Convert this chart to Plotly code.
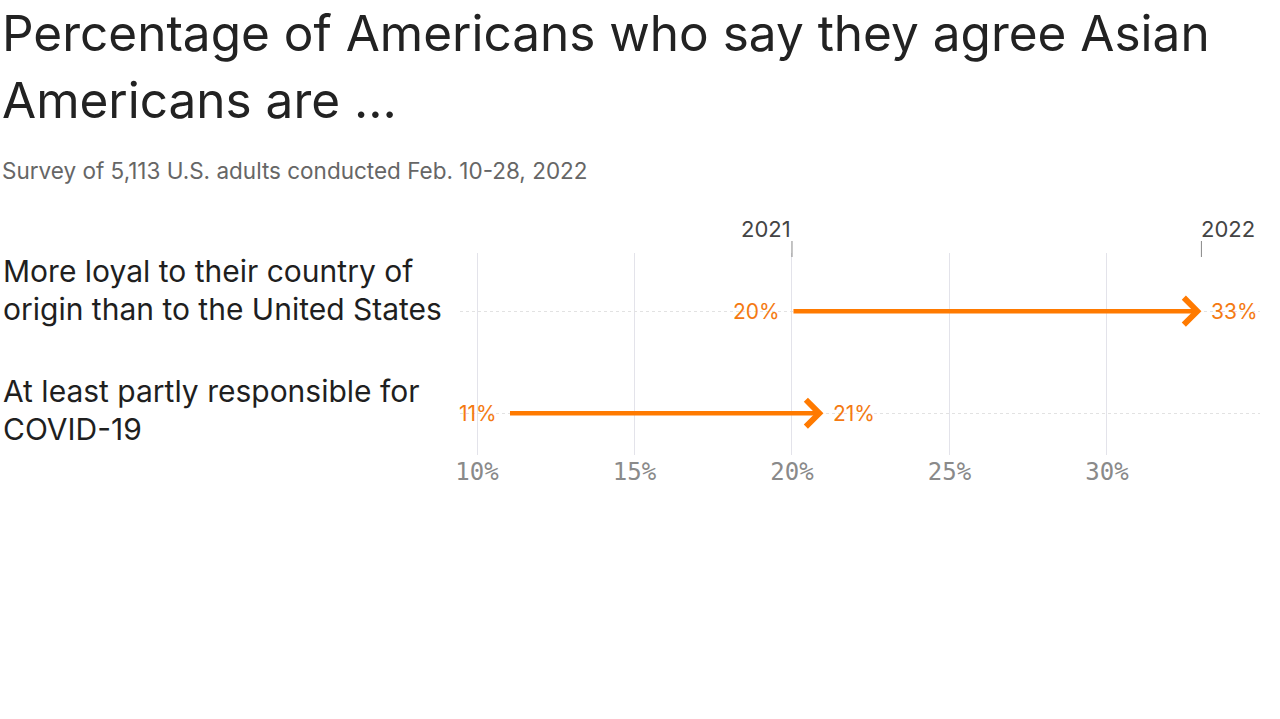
import plotly.graph_objects as go

# ---- data ----
categories = [
    ["More loyal to their country of", "origin than to the United States"],
    ["At least partly responsible for", "COVID-19"],
]
values_2021 = [20, 11]
values_2022 = [33, 21]
row_pos = [1, 0]
tick_vals = [10, 15, 20, 25, 30]
tick_text = ["10%", "15%", "20%", "25%", "30%"]
year_labels = ["2021", "2022"]

title_lines = ["Percentage of Americans who say they agree Asian", "Americans are ..."]
subtitle = "Survey of 5,113 U.S. adults conducted Feb. 10-28, 2022"

# ---- layout geometry (pixels) ----
W, H = 1280, 719
L, R, T, B = 460, 20, 253, 264
PW, PH = W - L - R, H - T - B

def px(x):
    return (x - L) / PW

def py(y):
    return (H - B - y) / PH

ORANGE = "#FF7A00"
LABEL_ORANGE = "#F47A12"
SANS = "Inter, 'Open Sans', sans-serif"

fig = go.Figure()

fig.add_trace(go.Scatter(
    x=values_2021 + values_2022, y=row_pos + row_pos,
    mode="markers", marker=dict(size=1, opacity=0), hoverinfo="skip", showlegend=False,
))

annotations = []
for i in range(len(row_pos)):
    annotations.append(dict(
        x=values_2022[i], y=row_pos[i], ax=values_2021[i], ay=row_pos[i],
        xref="x", yref="y", axref="x", ayref="y",
        showarrow=True, arrowhead=4, arrowsize=1.15, arrowwidth=4.5,
        arrowcolor=ORANGE, text="", standoff=0, startstandoff=0,
    ))
    annotations.append(dict(
        x=values_2021[i], y=row_pos[i], xref="x", yref="y",
        text=f"{values_2021[i]}%", showarrow=False, xanchor="right", xshift=-10,
        font=dict(family=SANS, size=21, color=LABEL_ORANGE),
    ))
    annotations.append(dict(
        x=values_2022[i], y=row_pos[i], xref="x", yref="y",
        text=f"{values_2022[i]}%", showarrow=False, xanchor="left", xshift=8,
        font=dict(family=SANS, size=21, color=LABEL_ORANGE),
    ))

label_tops = [271, 391]
for i, lines in enumerate(categories):
    for j, line in enumerate(lines):
        annotations.append(dict(
            x=px(1), y=py(label_tops[i] + 38 * j), xref="paper", yref="paper",
            text=line, showarrow=False, xanchor="left", yanchor="middle",
            font=dict(family=SANS, size=30, color="#1f1f1f"),
        ))

annotations.append(dict(
    x=values_2021[0], y=py(229), xref="x", yref="paper", text=year_labels[0],
    showarrow=False, xanchor="right", yanchor="middle", xshift=1,
    font=dict(family=SANS, size=22, color="#444444"),
))
annotations.append(dict(
    x=values_2022[0], y=py(229), xref="x", yref="paper", text=year_labels[1],
    showarrow=False, xanchor="left", yanchor="middle", xshift=-2,
    font=dict(family=SANS, size=22, color="#444444"),
))

annotations.append(dict(
    x=px(0), y=py(33), xref="paper", yref="paper", text=title_lines[0],
    showarrow=False, xanchor="left", yanchor="middle",
    font=dict(family=SANS, size=49.5, color="#222222"),
))
annotations.append(dict(
    x=px(0), y=py(100), xref="paper", yref="paper", text=title_lines[1],
    showarrow=False, xanchor="left", yanchor="middle",
    font=dict(family=SANS, size=49.5, color="#222222"),
))
annotations.append(dict(
    x=px(0), y=py(170), xref="paper", yref="paper", text=subtitle,
    showarrow=False, xanchor="left", yanchor="middle",
    font=dict(family=SANS, size=22.5, color="#666666"),
))

shapes = []
for v in [values_2021[0], values_2022[0]]:
    shapes.append(dict(
        type="line", xref="x", yref="paper", x0=v, x1=v, y0=py(241), y1=py(257),
        line=dict(color="#888888", width=1),
    ))

fig.update_layout(
    width=W, height=H,
    margin=dict(l=L, r=R, t=T, b=B),
    paper_bgcolor="white", plot_bgcolor="white",
    showlegend=False,
    annotations=annotations,
    shapes=shapes,
    xaxis=dict(
        range=[9.46, 34.86], tickvals=tick_vals, ticktext=tick_text,
        showgrid=True, gridcolor="#e3e3ea", gridwidth=1, zeroline=False,
        showline=False, ticks="",
        tickfont=dict(family="'DejaVu Sans Mono', monospace", size=24, color="#8a8a8a"),
        fixedrange=True,
    ),
    yaxis=dict(
        range=[-0.41, 1.57], tickvals=row_pos, showticklabels=False,
        showgrid=True, gridcolor="#e2e2e2", griddash="dot", gridwidth=1,
        zeroline=False, showline=False, ticks="", fixedrange=True,
    ),
)

fig.write_html(
    "out.html",
    config={"displayModeBar": False},
    post_script="document.body.style.margin='0';document.body.style.overflow='hidden';",
)
